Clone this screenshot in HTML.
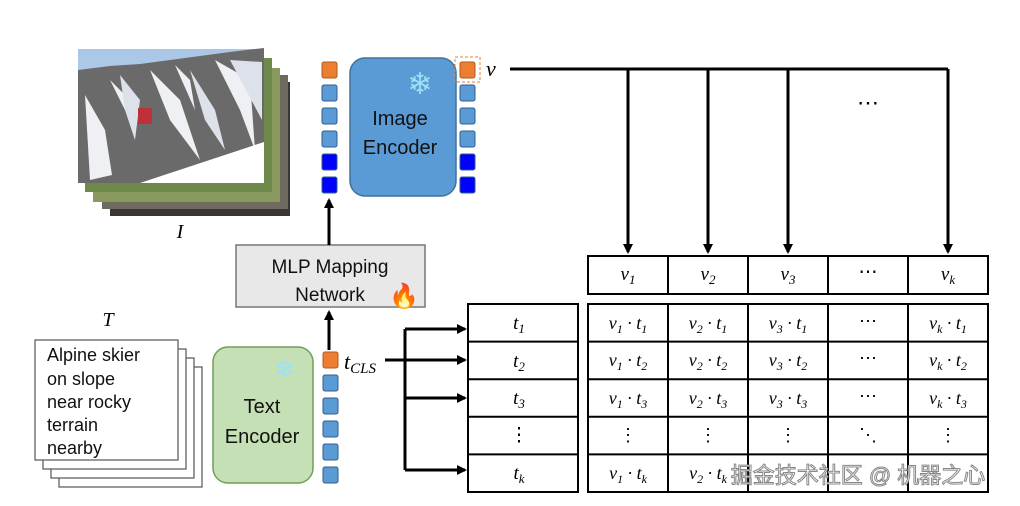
<!DOCTYPE html>
<html><head><meta charset="utf-8"><style>
html,body{margin:0;padding:0;background:#fff}
svg{display:block}
text{font-family:"Liberation Sans",sans-serif}
.m, .m text, .m tspan, text.m{font-family:"Liberation Serif",serif;font-style:italic}
</style></head><body>
<svg width="1020" height="506" viewBox="0 0 1020 506" xmlns="http://www.w3.org/2000/svg">
<defs>
<marker id="ah" markerWidth="10" markerHeight="10" refX="8" refY="5" orient="auto" markerUnits="userSpaceOnUse"><path d="M0,0 L10,5 L0,10 z" fill="#000"/></marker>
<linearGradient id="sky" x1="0" y1="0" x2="0" y2="1"><stop offset="0" stop-color="#a9c6e6"/><stop offset="1" stop-color="#c9dbee"/></linearGradient>
</defs>
<!-- image stack -->
<rect x="110" y="82" width="180" height="134" fill="#3a3632"/>
<rect x="102" y="75" width="186" height="134" fill="#6f6a60"/>
<rect x="93" y="68" width="187" height="134" fill="#8a9a5e"/>
<rect x="85" y="58" width="187" height="134" fill="#6d8a4a"/>
<rect x="78" y="49" width="186" height="134" fill="url(#sky)"/>
<path d="M78,70 L110,66 L140,64 L170,60 L200,56 L230,52 L264,48 L264,183 L78,183 z" fill="#6a6a6a"/>
<path d="M85,95 L105,130 L112,175 L90,180 Z M150,70 L170,120 L200,160 L180,100 Z M215,60 L240,110 L255,150 L250,80 Z M110,80 L125,95 L130,120 Z M175,65 L190,80 L195,110 Z" fill="#eef0f4"/>
<path d="M120,75 L140,100 L135,140 L125,110 Z M190,70 L215,110 L225,150 L205,120 Z M230,60 L262,62 L262,120 Z" fill="#dde2ea"/>
<path d="M140,183 L264,142 L264,183 Z" fill="#fff"/>
<rect x="138" y="108" width="14" height="16" fill="#c0303a"/>
<text x="180" y="238" class="m" font-size="20" text-anchor="middle">I</text>
<!-- left image tokens -->
<g stroke="#2f5e8e" stroke-width="1">
<rect x="322" y="62" width="15" height="16" rx="2" fill="#ed7d31" stroke="#ae5a21"/>
<rect x="322" y="85" width="15" height="16" rx="2" fill="#5b9bd5"/>
<rect x="322" y="108" width="15" height="16" rx="2" fill="#5b9bd5"/>
<rect x="322" y="131" width="15" height="16" rx="2" fill="#5b9bd5"/>
<rect x="322" y="154" width="15" height="16" rx="2" fill="#0000ff"/>
<rect x="322" y="177" width="15" height="16" rx="2" fill="#0000ff"/>
</g>
<rect x="350" y="58" width="106" height="138" rx="15" fill="#5b9bd5" stroke="#41719c" stroke-width="1.5"/>
<text x="420" y="94" font-size="30" fill="#9fe0f5" text-anchor="middle">❄</text>
<text x="400" y="125" font-size="20" text-anchor="middle" fill="#111">Image</text>
<text x="400" y="154" font-size="20" text-anchor="middle" fill="#111">Encoder</text>
<!-- right image tokens -->
<rect x="455" y="57" width="25" height="25" fill="none" stroke="#ed7d31" stroke-dasharray="3,2"/>
<g stroke="#2f5e8e" stroke-width="1">
<rect x="460" y="62" width="15" height="16" rx="2" fill="#ed7d31" stroke="#ae5a21"/>
<rect x="460" y="85" width="15" height="16" rx="2" fill="#5b9bd5"/>
<rect x="460" y="108" width="15" height="16" rx="2" fill="#5b9bd5"/>
<rect x="460" y="131" width="15" height="16" rx="2" fill="#5b9bd5"/>
<rect x="460" y="154" width="15" height="16" rx="2" fill="#0000ff"/>
<rect x="460" y="177" width="15" height="16" rx="2" fill="#0000ff"/>
</g>
<text x="486" y="76" class="m" font-size="22">v</text>
<!-- v distribution lines -->
<g stroke="#000" stroke-width="3" fill="none">
<path d="M510,69 H948"/>
<path d="M628,69 V252" marker-end="url(#ah)"/>
<path d="M708,69 V252" marker-end="url(#ah)"/>
<path d="M788,69 V252" marker-end="url(#ah)"/>
<path d="M948,69 V252" marker-end="url(#ah)"/>
</g>
<text x="868" y="110" font-size="22" text-anchor="middle">⋯</text>
<!-- MLP -->
<rect x="236" y="245" width="189" height="62" fill="#e8e8e8" stroke="#777" stroke-width="1.5"/>
<text x="330" y="273" font-size="19" text-anchor="middle" fill="#111">MLP Mapping</text>
<text x="330" y="301" font-size="19" text-anchor="middle" fill="#111">Network</text>
<text x="404" y="304" font-size="24" text-anchor="middle" fill="#f05a1a">🔥</text>
<g stroke="#000" stroke-width="3" fill="none">
<path d="M329,245 V200" marker-end="url(#ah)"/>
<path d="M329,350 V312" marker-end="url(#ah)"/>
</g>
<!-- text cards -->
<g fill="#fff" stroke="#555" stroke-width="1.2">
<rect x="59" y="367" width="143" height="120"/>
<rect x="51" y="358" width="143" height="120"/>
<rect x="43" y="349" width="143" height="120"/>
<rect x="35" y="340" width="143" height="120"/>
</g>
<text x="108" y="326" class="m" font-size="20" text-anchor="middle">T</text>
<g font-size="18" fill="#111">
<text x="47" y="361">Alpine skier</text>
<text x="47" y="385">on slope</text>
<text x="47" y="408">near rocky</text>
<text x="47" y="431">terrain</text>
<text x="47" y="454">nearby</text>
</g>
<!-- text encoder -->
<rect x="213" y="347" width="100" height="136" rx="15" fill="#c5e0b4" stroke="#6f9f5b" stroke-width="1.5"/>
<text x="285" y="378" font-size="26" fill="#9fe0f5" text-anchor="middle">❄</text>
<text x="262" y="413" font-size="20" text-anchor="middle" fill="#111">Text</text>
<text x="262" y="443" font-size="20" text-anchor="middle" fill="#111">Encoder</text>
<g stroke="#2f5e8e" stroke-width="1">
<rect x="323" y="352" width="15" height="16" rx="2" fill="#ed7d31" stroke="#ae5a21"/>
<rect x="323" y="375" width="15" height="16" rx="2" fill="#5b9bd5"/>
<rect x="323" y="398" width="15" height="16" rx="2" fill="#5b9bd5"/>
<rect x="323" y="421" width="15" height="16" rx="2" fill="#5b9bd5"/>
<rect x="323" y="444" width="15" height="16" rx="2" fill="#5b9bd5"/>
<rect x="323" y="467" width="15" height="16" rx="2" fill="#5b9bd5"/>
</g>
<text x="344" y="369" class="m" font-size="22">t<tspan font-size="15" dy="4">CLS</tspan></text>
<!-- t branching -->
<g stroke="#000" stroke-width="3" fill="none">
<path d="M385,360 H405"/>
<path d="M405,329 V470"/>
<path d="M405,329 H465" marker-end="url(#ah)"/>
<path d="M405,360 H465" marker-end="url(#ah)"/>
<path d="M405,398 H465" marker-end="url(#ah)"/>
<path d="M405,470 H465" marker-end="url(#ah)"/>
</g>
<!-- t column -->
<g fill="#fff" stroke="#000" stroke-width="2">
<rect x="468" y="304" width="110" height="188"/>
<path d="M468,341.6 H578 M468,379.2 H578 M468,416.8 H578 M468,454.4 H578"/>
</g>
<g class="m" font-size="19" text-anchor="middle">
<text x="519" y="329">t<tspan font-size="13" dy="4">1</tspan></text>
<text x="519" y="367">t<tspan font-size="13" dy="4">2</tspan></text>
<text x="519" y="404">t<tspan font-size="13" dy="4">3</tspan></text>
<text x="519" y="441" style="font-style:normal">⋮</text>
<text x="519" y="479">t<tspan font-size="13" dy="4">k</tspan></text>
</g>
<!-- v row -->
<g fill="#fff" stroke="#000" stroke-width="2">
<rect x="588" y="256" width="400" height="38"/>
<path d="M668,256 V294 M748,256 V294 M828,256 V294 M908,256 V294"/>
<rect x="588" y="304" width="400" height="188"/>
<path d="M668,304 V492 M748,304 V492 M828,304 V492 M908,304 V492"/>
<path d="M588,341.6 H988 M588,379.2 H988 M588,416.8 H988 M588,454.4 H988"/>
</g>
<g class="m" font-size="19" text-anchor="middle">
<text x="628" y="280">v<tspan font-size="13" dy="4">1</tspan></text>
<text x="708" y="280">v<tspan font-size="13" dy="4">2</tspan></text>
<text x="788" y="280">v<tspan font-size="13" dy="4">3</tspan></text>
<text x="868" y="278" style="font-style:normal">⋯</text>
<text x="948" y="280">v<tspan font-size="13" dy="4">k</tspan></text>
</g>
<g class="m" font-size="18" text-anchor="middle">
<text x="628" y="329">v<tspan font-size="12" dy="4">1</tspan><tspan dy="-4"> · t</tspan><tspan font-size="12" dy="4">1</tspan></text>
<text x="708" y="329">v<tspan font-size="12" dy="4">2</tspan><tspan dy="-4"> · t</tspan><tspan font-size="12" dy="4">1</tspan></text>
<text x="788" y="329">v<tspan font-size="12" dy="4">3</tspan><tspan dy="-4"> · t</tspan><tspan font-size="12" dy="4">1</tspan></text>
<text x="868" y="327" style="font-style:normal">⋯</text>
<text x="948" y="329">v<tspan font-size="12" dy="4">k</tspan><tspan dy="-4"> · t</tspan><tspan font-size="12" dy="4">1</tspan></text>
<text x="628" y="366">v<tspan font-size="12" dy="4">1</tspan><tspan dy="-4"> · t</tspan><tspan font-size="12" dy="4">2</tspan></text>
<text x="708" y="366">v<tspan font-size="12" dy="4">2</tspan><tspan dy="-4"> · t</tspan><tspan font-size="12" dy="4">2</tspan></text>
<text x="788" y="366">v<tspan font-size="12" dy="4">3</tspan><tspan dy="-4"> · t</tspan><tspan font-size="12" dy="4">2</tspan></text>
<text x="868" y="364" style="font-style:normal">⋯</text>
<text x="948" y="366">v<tspan font-size="12" dy="4">k</tspan><tspan dy="-4"> · t</tspan><tspan font-size="12" dy="4">2</tspan></text>
<text x="628" y="404">v<tspan font-size="12" dy="4">1</tspan><tspan dy="-4"> · t</tspan><tspan font-size="12" dy="4">3</tspan></text>
<text x="708" y="404">v<tspan font-size="12" dy="4">2</tspan><tspan dy="-4"> · t</tspan><tspan font-size="12" dy="4">3</tspan></text>
<text x="788" y="404">v<tspan font-size="12" dy="4">3</tspan><tspan dy="-4"> · t</tspan><tspan font-size="12" dy="4">3</tspan></text>
<text x="868" y="402" style="font-style:normal">⋯</text>
<text x="948" y="404">v<tspan font-size="12" dy="4">k</tspan><tspan dy="-4"> · t</tspan><tspan font-size="12" dy="4">3</tspan></text>
<text x="628" y="441" style="font-style:normal">⋮</text>
<text x="708" y="441" style="font-style:normal">⋮</text>
<text x="788" y="441" style="font-style:normal">⋮</text>
<text x="868" y="441" style="font-style:normal">⋱</text>
<text x="948" y="441" style="font-style:normal">⋮</text>
<text x="628" y="479">v<tspan font-size="12" dy="4">1</tspan><tspan dy="-4"> · t</tspan><tspan font-size="12" dy="4">k</tspan></text>
<text x="708" y="479">v<tspan font-size="12" dy="4">2</tspan><tspan dy="-4"> · t</tspan><tspan font-size="12" dy="4">k</tspan></text>
</g>
<text x="858" y="483" font-size="22" text-anchor="middle" fill="#fff" stroke="#888" stroke-width="1" style="font-family:'Liberation Sans','Noto Sans CJK SC',sans-serif">掘金技术社区 @ 机器之心</text>
</svg>
</body></html>
